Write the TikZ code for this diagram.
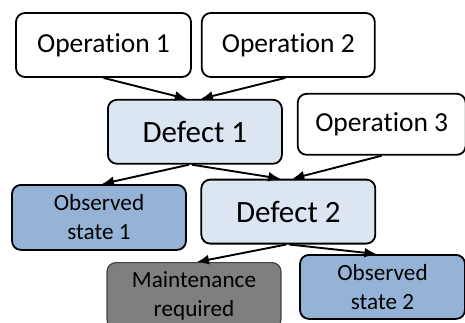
\documentclass[tikz,border=0pt]{standalone}
\usepackage{fontspec}
\setmainfont[Ligatures={NoCommon}]{Carlito}
\usetikzlibrary{arrows.meta,positioning}
\definecolor{ink}{RGB}{0,0,0}
\definecolor{defbg}{RGB}{220,230,242}
\definecolor{obsbg}{RGB}{149,179,215}
\definecolor{maintbg}{RGB}{127,127,127}
\definecolor{maintln}{RGB}{64,64,64}
\tikzset{
  op/.style={draw=ink,line width=1.8pt,rounded corners=9pt,fill=white,
    minimum width=175pt,minimum height=64pt,inner sep=0pt,
    font=\fontsize{27.5}{33}\selectfont},
  defect/.style={op,fill=defbg,minimum width=174pt,
    font=\fontsize{31}{37}\selectfont},
  obs/.style={op,fill=obsbg,minimum width=174pt,minimum height=65pt,align=center,
    font=\fontsize{23.2}{29}\selectfont},
  maint/.style={obs,draw=maintln,line width=1.2pt,fill=maintbg,minimum height=66pt},
  arr/.style={-{Latex[length=12pt,width=10pt]},line width=1.9pt,ink},
}
\begin{document}
\begin{tikzpicture}[x=1pt,y=-1pt]
\useasboundingbox (0,0) rectangle (465,323);
\node[op] (op1) at (103.5,45) {Operation 1};
\node[op,minimum width=173pt,right=9pt of op1] (op2) {Operation 2};
\node[defect,below=21pt of op1.south east,xshift=3pt] (d1) {Defect 1};
\node[op,minimum width=168pt,minimum height=61pt,right=14pt of d1,yshift=7.5pt] (op3) {Operation 3};
\node[defect,anchor=north,yshift=-14pt] (d2) at (op2 |- d1.south) {Defect 2};
\node[obs,anchor=north] (s1) at (99,184) {Observed\\state 1};
\node[maint,anchor=north] (mr) at (194,262) {Maintenance\\required};
\node[obs,minimum width=165pt,minimum height=64pt,anchor=north] (s2) at (382.5,254) {Observed\\state 2};
\draw[arr] (op1.south) -- ([xshift=-8pt]d1.north);
\draw[arr] ([xshift=-3pt]op2.south) -- ([xshift=6pt]d1.north);
\draw[arr] ([xshift=-6pt]d1.south) -- ([xshift=3pt]s1.north);
\draw[arr] ([xshift=-3pt]d1.south) -- ([xshift=-8pt]d2.north);
\draw[arr] (op3.south) -- ([xshift=4pt]d2.north);
\draw[arr] ([xshift=-2pt]d2.south) -- ([xshift=3pt]mr.north);
\draw[arr] ([xshift=1pt]d2.south) -- ([xshift=-6pt]s2.north);
\end{tikzpicture}
\end{document}
